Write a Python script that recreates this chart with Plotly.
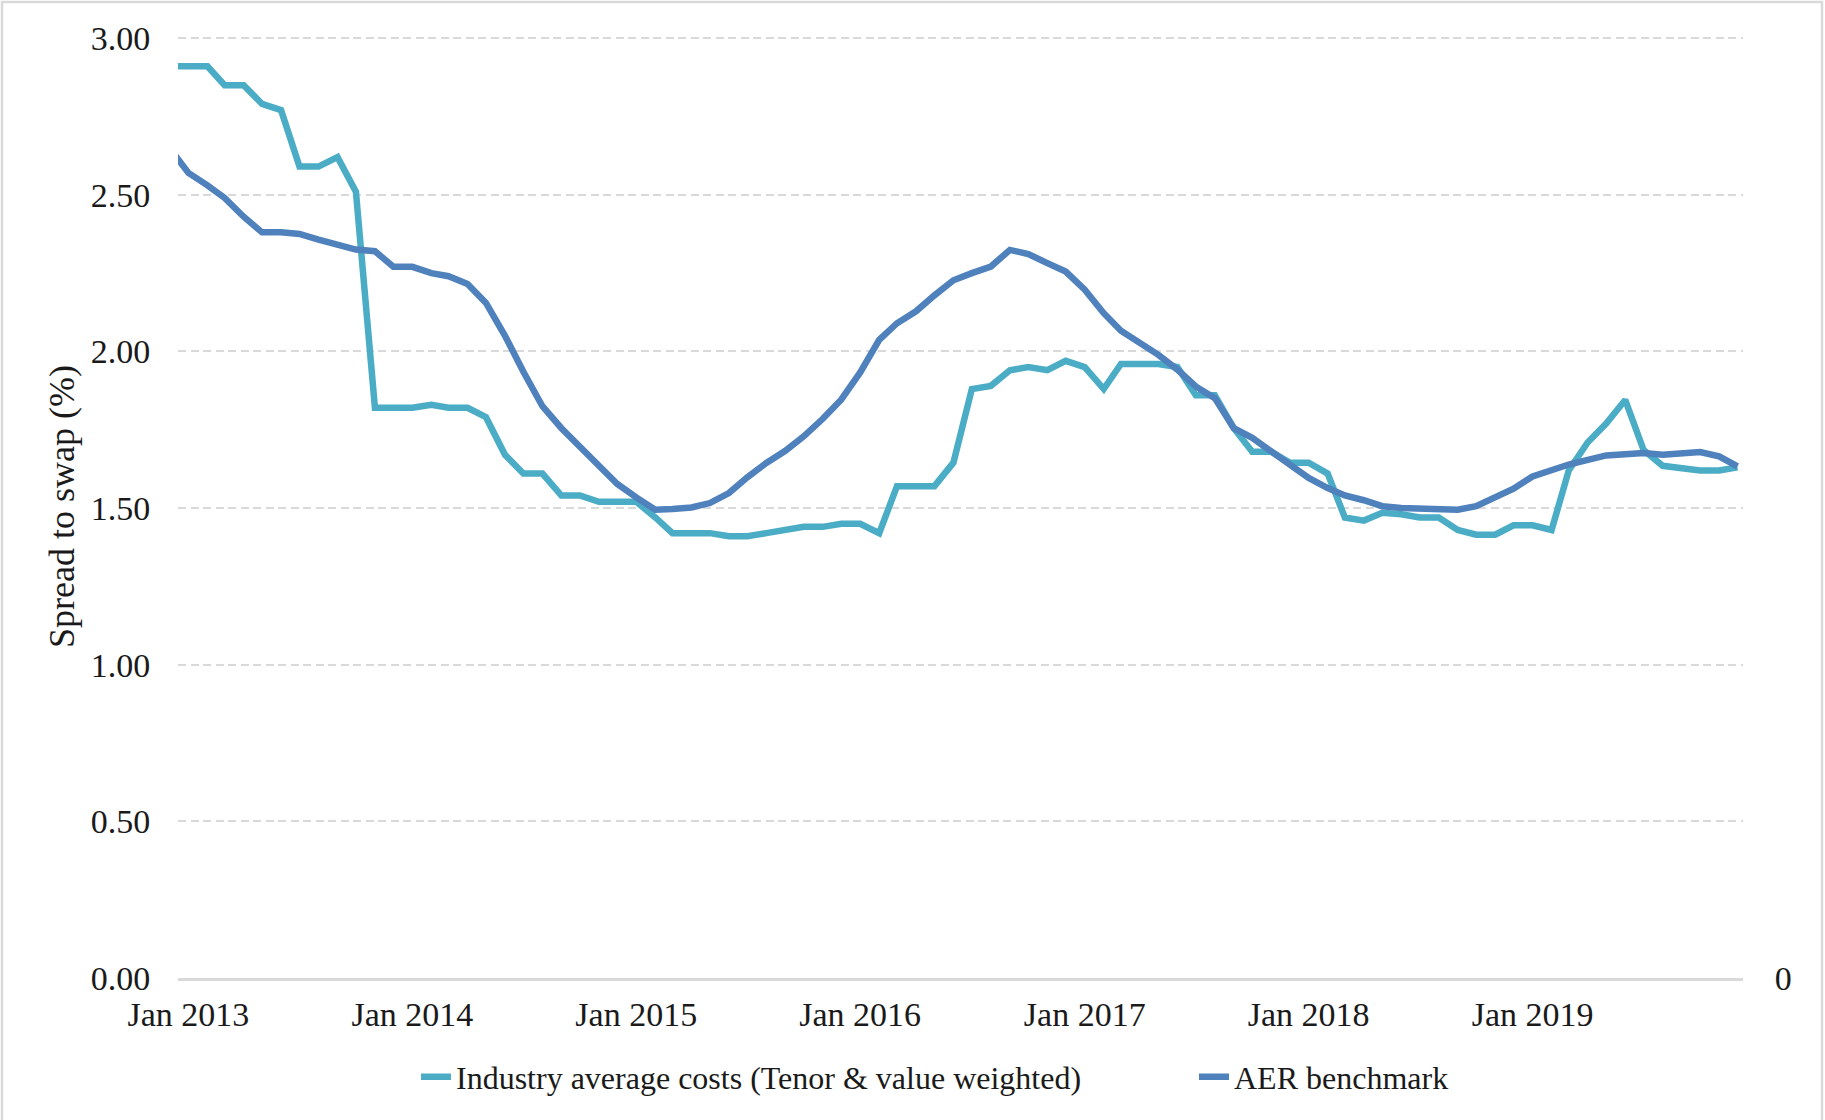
import pandas as pd
import plotly.graph_objects as go

# Monthly observations, Dec 2012 (partly outside the visible range) to Dec 2019
months = pd.date_range("2012-12-01", "2019-12-01", freq="MS")

industry_avg = [
    2.91,                                                              # Dec 2012
    2.91, 2.91, 2.85, 2.85, 2.79, 2.77, 2.59, 2.59, 2.62, 2.51, 1.82, 1.82,   # 2013
    1.82, 1.83, 1.82, 1.82, 1.79, 1.67, 1.61, 1.61, 1.54, 1.54, 1.52, 1.52,   # 2014
    1.52, 1.47, 1.42, 1.42, 1.42, 1.41, 1.41, 1.42, 1.43, 1.44, 1.44, 1.45,   # 2015
    1.45, 1.42, 1.57, 1.57, 1.57, 1.645, 1.88, 1.89, 1.94, 1.95, 1.94, 1.97,  # 2016
    1.95, 1.88, 1.96, 1.96, 1.96, 1.95, 1.86, 1.86, 1.755, 1.68, 1.68, 1.645, # 2017
    1.645, 1.61, 1.47, 1.46, 1.485, 1.48, 1.47, 1.47, 1.43, 1.415, 1.415, 1.445,  # 2018
    1.445, 1.43, 1.62, 1.71, 1.77, 1.845, 1.685, 1.635, 1.625, 1.62, 1.62, 1.63,  # 2019
]

aer_benchmark = [
    2.65,                                                                          # Dec 2012
    2.57, 2.53, 2.49, 2.43, 2.38, 2.38, 2.375, 2.357, 2.34, 2.325, 2.32, 2.27,      # 2013
    2.27, 2.25, 2.24, 2.215, 2.155, 2.05, 1.935, 1.825, 1.755, 1.697, 1.636, 1.577,  # 2014
    1.534, 1.495, 1.497, 1.502, 1.516, 1.548, 1.598, 1.644, 1.683, 1.729, 1.785, 1.846,  # 2015
    1.933, 2.037, 2.09, 2.128, 2.179, 2.227, 2.25, 2.271, 2.324, 2.311, 2.282, 2.255,  # 2016
    2.197, 2.122, 2.066, 2.029, 1.989, 1.942, 1.888, 1.851, 1.755, 1.724, 1.681, 1.644,  # 2017
    1.596, 1.564, 1.54, 1.525, 1.506, 1.50, 1.50, 1.495, 1.495, 1.506, 1.532, 1.562,  # 2018
    1.601, 1.623, 1.639, 1.654, 1.668, 1.672, 1.676, 1.670, 1.676, 1.679, 1.665, 1.633,  # 2019
]

series_names = ["Industry average costs (Tenor & value weighted)", "AER benchmark"]
series_colors = ["#4BACC6", "#4F81BD"]
y_title = "Spread to swap (%)"
y_ticks = [0.0, 0.5, 1.0, 1.5, 2.0, 2.5, 3.0]
y_tick_labels = ["0.00", "0.50", "1.00", "1.50", "2.00", "2.50", "3.00"]

FONT = "Liberation Serif"
TXT = "#1a1a1a"

fig = go.Figure()
for name, vals, col in zip(series_names, [industry_avg, aer_benchmark], series_colors):
    fig.add_trace(go.Scatter(
        x=months, y=vals, name=name, mode="lines",
        line=dict(color=col, width=6.5),
        hoverinfo="skip",
    ))

# empty secondary axis (shows only its "0" label on the right)
fig.add_trace(go.Scatter(x=[], y=[], yaxis="y2", showlegend=False, hoverinfo="skip"))

# plot area geometry (pixels)
W, H = 1825, 1120
L, R, T, B = 178, 82, 35, 142
pw, ph = W - L - R, H - T - B

def px_x(p):
    return (p - L) / pw

def px_y(p):
    return (H - B - p) / ph

fig.update_layout(
    width=W, height=H,
    margin=dict(l=L, r=R, t=T, b=B, autoexpand=False),
    paper_bgcolor="white", plot_bgcolor="white",
    font=dict(family=FONT, size=34, color=TXT),
    showlegend=True,
    legend=dict(
        orientation="h", xref="container", yref="container",
        x=416 / W, xanchor="left", y=1 - 1077 / H, yanchor="middle",
        entrywidth=733, entrywidthmode="pixels",
        font=dict(family=FONT, size=32, color=TXT),
        bgcolor="rgba(0,0,0,0)",
    ),
    xaxis=dict(
        type="date",
        range=["2012-12-15", "2019-12-10"],
        tick0="2013-01-01", dtick="M12", tickformat="%b %Y",
        showgrid=False, zeroline=False,
        showline=True, linecolor="#d9d9d9", linewidth=2.5,
        ticks="outside", ticklen=4, tickcolor="rgba(0,0,0,0)",
        tickfont=dict(family=FONT, size=34, color=TXT),
        fixedrange=True,
    ),
    yaxis=dict(
        range=[0, 3.01],
        tickvals=y_ticks, ticktext=y_tick_labels,
        showgrid=True, gridcolor="#d9d9d9", gridwidth=2, griddash="8px,4.5px",
        zeroline=False, showline=False,
        ticks="outside", ticklen=20, tickcolor="rgba(0,0,0,0)",
        tickfont=dict(family=FONT, size=34, color=TXT),
        title=dict(text=y_title, standoff=5, font=dict(family=FONT, size=36, color=TXT)),
        fixedrange=True,
    ),
    yaxis2=dict(
        overlaying="y", side="right", range=[0, 1],
        tickvals=[0], ticktext=["0"],
        showgrid=False, zeroline=False, showline=False,
        ticks="outside", ticklen=24, tickcolor="rgba(0,0,0,0)",
        tickfont=dict(family=FONT, size=34, color=TXT),
        fixedrange=True,
    ),
    shapes=[dict(
        type="rect", xref="paper", yref="paper",
        x0=px_x(2), x1=px_x(1822), y0=px_y(1135), y1=px_y(2),
        line=dict(color="#d9d9d9", width=2.5), fillcolor="rgba(0,0,0,0)",
        layer="below",
    )],
)

fig.write_html("out.html")
